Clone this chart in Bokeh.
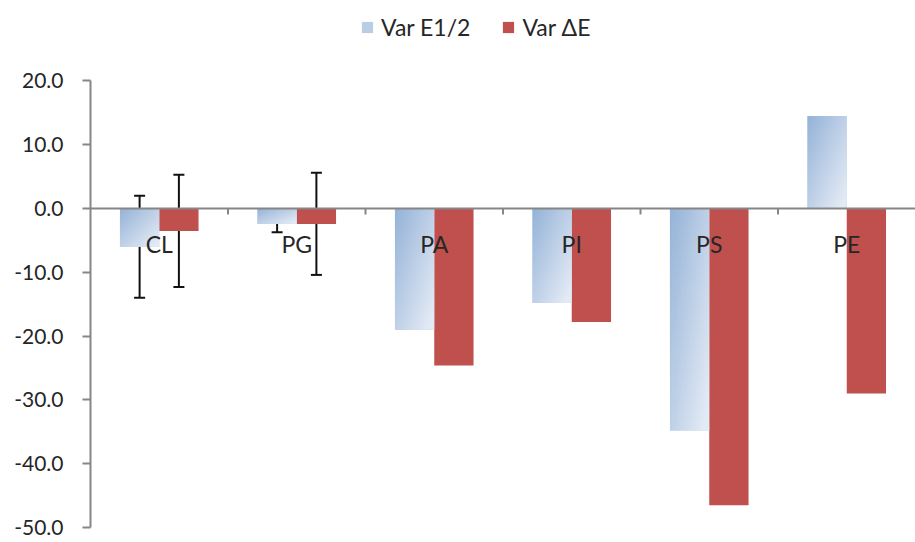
import numpy as np
from bokeh.plotting import figure
from bokeh.models import (ColumnDataSource, Range1d, FixedTicker, NumeralTickFormatter,
                          Legend, LegendItem, Whisker, TeeHead, Span)
from bokeh.core.properties import value
from bokeh.embed import file_html
from bokeh.resources import INLINE

# ---------------- data ----------------
categories = ["CL", "PG", "PA", "PI", "PS", "PE"]
var_e12 = [-6.0, -2.4, -19.0, -14.8, -34.8, 14.5]
var_de = [-3.5, -2.4, -24.6, -17.8, -46.5, -29.0]
err_categories = ["CL", "PG"]
err_e12 = [8.0, 1.3]
err_de = [8.8, 8.0]
y_ticks = [-50, -40, -30, -20, -10, 0, 10, 20]
series_names = ["Var E1/2", "Var \u0394E"]

FONT = "Lato"
TEXT = "#262626"
AXIS = "#868686"
RED = "#C0504D"
BLUE = "#B9CDE5"

n = len(categories)
bw = 1 / 3.5
centers = np.arange(n) + 0.5
x_blue = centers - bw / 2
x_red = centers + bw / 2

# frame spans the full height; the axis is limited to the tick range with bounds,
# leaving room at the top for the legend
p = figure(width=915, height=542, x_range=Range1d(0, n), y_range=Range1d(y_ticks[0], 32.62),
           output_backend="svg", toolbar_location=None, x_axis_type=None,
           min_border_left=90, min_border_right=0, min_border_top=0, min_border_bottom=15)
p.outline_line_color = None
p.grid.visible = False
p.background_fill_color = "white"

# y axis
ax = p.yaxis[0]
ax.bounds = (y_ticks[0], y_ticks[-1])
ax.ticker = FixedTicker(ticks=y_ticks)
ax.formatter = NumeralTickFormatter(format="0.0")
ax.axis_line_color = AXIS
ax.axis_line_width = 2
ax.major_tick_line_color = AXIS
ax.major_tick_line_width = 2
ax.major_tick_in = 0
ax.major_tick_out = 8
ax.minor_tick_line_color = None
ax.major_label_standoff = 19
ax.major_label_text_font = FONT
ax.major_label_text_font_size = "21px"
ax.major_label_text_color = TEXT

# bars
src_b = ColumnDataSource(dict(x=x_blue, top=var_e12))
src_r = ColumnDataSource(dict(x=x_red, top=var_de))
rb = p.vbar(x="x", top="top", bottom=0, width=bw, source=src_b, fill_color=BLUE, line_color=None)
rr = p.vbar(x="x", top="top", bottom=0, width=bw, source=src_r, fill_color=RED, line_color=None)

# gradient overlay for the blue bars
def gradient(nx=48, ny=160):
    u = np.linspace(0, 1, nx)[None, :]
    v = (1 - np.linspace(0, 1, ny))[:, None]  # row 0 is bottom -> v from top
    t = np.clip(0.55 * u + 0.55 * v, 0, 1)
    c0 = np.array([149, 179, 216])
    c1 = np.array([226, 234, 245])
    rgb = c0[None, None, :] * (1 - t[..., None]) + c1[None, None, :] * t[..., None]
    img = np.empty((ny, nx), dtype=np.uint32)
    view = img.view(dtype=np.uint8).reshape((ny, nx, 4))
    view[..., :3] = rgb.astype(np.uint8)
    view[..., 3] = 255
    return img

imgs, ix, iy, idw, idh = [], [], [], [], []
for xc, v in zip(x_blue, var_e12):
    imgs.append(gradient())
    ix.append(xc - bw / 2)
    iy.append(min(0, v))
    idw.append(bw)
    idh.append(abs(v))
p.image_rgba(image=imgs, x=ix, y=iy, dw=idw, dh=idh)

# zero line and category ticks
p.add_layout(Span(location=0, dimension="width", line_color=AXIS, line_width=2))
bounds = np.arange(1, n)
p.segment(x0=bounds, y0=[0] * len(bounds), x1=bounds, y1=[-0.94] * len(bounds),
          line_color=AXIS, line_width=2)

# category labels
p.text(x=centers, y=[0] * n, text=categories, text_font=value(FONT), text_font_size="23px",
       text_color=TEXT, text_align="center", text_baseline="middle", y_offset=35)

# error bars
idx = [categories.index(c) for c in err_categories]
eb_x = [x_blue[i] for i in idx]
er_x = [x_red[i] for i in idx]
eb_src = ColumnDataSource(dict(base=eb_x,
                               upper=[var_e12[i] + e for i, e in zip(idx, err_e12)],
                               lower=[var_e12[i] - e for i, e in zip(idx, err_e12)]))
er_src = ColumnDataSource(dict(base=er_x,
                               upper=[var_de[i] + e for i, e in zip(idx, err_de)],
                               lower=[var_de[i] - e for i, e in zip(idx, err_de)]))
for s in (eb_src, er_src):
    w = Whisker(source=s, base="base", upper="upper", lower="lower",
                line_color="#111111", line_width=2,
                upper_head=TeeHead(size=11, line_color="#111111", line_width=2),
                lower_head=TeeHead(size=11, line_color="#111111", line_width=2))
    p.add_layout(w)

# legend
legend = Legend(items=[LegendItem(label=series_names[0], renderers=[rb]),
                       LegendItem(label=series_names[1], renderers=[rr])],
                orientation="horizontal", location=(270, 486),
                label_text_font=FONT, label_text_font_size="23px", label_text_color=TEXT,
                glyph_width=14, glyph_height=14, label_standoff=7, spacing=31,
                padding=0, margin=0, border_line_color=None, background_fill_alpha=0)
p.add_layout(legend, "center")

open("out.html", "w").write(file_html(p, INLINE))
